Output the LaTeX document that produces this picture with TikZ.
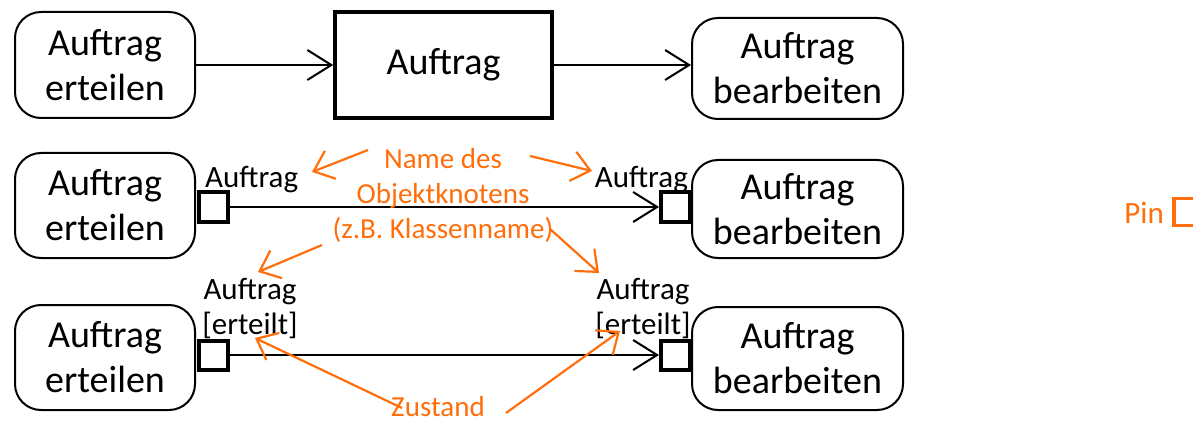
\documentclass[tikz,border=0pt]{standalone}
\usepackage{fontspec}
\setmainfont{Carlito}
\usetikzlibrary{arrows.meta}
\definecolor{note}{RGB}{255,110,10}
\begin{document}
\begin{tikzpicture}[x=1pt,y=-1pt,
  act/.style={draw,line width=2pt,rounded corners=26pt,align=center,inner sep=0pt,
    font=\fontsize{38}{45}\selectfont},
  objbox/.style={draw,line width=3.5pt,inner sep=0pt,font=\fontsize{38}{45}\selectfont},
  pinbox/.style={draw,line width=4pt,minimum size=29pt,inner sep=0pt},
  lbl/.style={inner sep=0pt,align=center,font=\fontsize{31}{35}\selectfont},
  notelbl/.style={inner sep=0pt,align=center,text=note,font=\fontsize{29}{35}\selectfont},
  conn/.style={line width=2pt,-{Straight Barb[length=24pt,width=30pt,line width=2pt]}},
  noteconn/.style={draw=note,line width=2.2pt,-{Straight Barb[length=18pt,width=30pt,line width=2.2pt]}}]
\useasboundingbox (0,0) rectangle (1193,422);

% first row: action -> object node -> action
\node[act,minimum width=180pt,minimum height=106pt] (a1) at (105,65) {Auftrag\\erteilen};
\node[objbox,minimum width=217pt,minimum height=106pt] (o1) at (443.5,65) {Auftrag};
\node[act,minimum width=211pt,minimum height=101pt] (b1) at (797.5,68.5) {Auftrag\\bearbeiten};
\draw[conn] (a1.east |- o1.west) -- (o1.west);
\draw[conn] (o1.east) -- (b1.west |- o1.east);

% second row: output pin -> input pin
\node[act,minimum width=180pt,minimum height=105pt] (a2) at (105,205.5) {Auftrag\\erteilen};
\node[act,minimum width=211pt,minimum height=98pt] (b2) at (797.5,209) {Auftrag\\bearbeiten};
\node[pinbox,anchor=west] (p2a) at (196.5,207) {};
\node[pinbox,anchor=east] (p2b) at (692,207) {};
\draw[conn] (p2a.east) -- (p2b.west);
\node[lbl,anchor=base west] (l2a) at (205,187) {Auftrag};
\node[lbl,anchor=base east] (l2b) at (688,187) {Auftrag};

% third row: pins with object state
\node[act,minimum width=180pt,minimum height=105pt] (a3) at (105,357.5) {Auftrag\\erteilen};
\node[act,minimum width=211pt,minimum height=103pt] (b3) at (797.5,358.5) {Auftrag\\bearbeiten};
\node[pinbox,anchor=west] (p3a) at (196.5,355) {};
\node[pinbox,anchor=east] (p3b) at (692,355) {};
\draw[conn] (p3a.east) -- (p3b.west);
% "base" of a multi-line node is the baseline of its last line
\node[lbl,anchor=base] (l3a) at (250,334) {Auftrag\\{}[erteilt]};
\node[lbl,anchor=base] (l3b) at (643,334) {Auftrag\\{}[erteilt]};

% annotations
\node[notelbl,anchor=base] (nname) at (443,238) {Name des\\Objektknotens\\(z.B. Klassenname)};
\node[notelbl,anchor=base] (nstate) at (438,416) {Zustand};

\coordinate (n1s) at (368,150);  \coordinate (n1e) at (312,172);
\coordinate (n2s) at (530,156);  \coordinate (n2e) at (592,171);
\coordinate (n3s) at (322,245);  \coordinate (n3e) at (258,272);
\coordinate (n4s) at (550,229);  \coordinate (n4e) at (599,273);
\coordinate (z1s) at (402,408);  \coordinate (z1e) at (255,338);
\coordinate (z2s) at (506,413);  \coordinate (z2e) at (620,331);
\draw[noteconn] (n1s) -- (n1e);
\draw[noteconn] (n2s) -- (n2e);
\draw[noteconn] (n3s) -- (n3e);
\draw[noteconn] (n4s) -- (n4e);
\draw[noteconn] (z1s) -- (z1e);
\draw[noteconn] (z2s) -- (z2e);

% legend
\node[notelbl,anchor=base east,font=\fontsize{31}{36}\selectfont] (pinlbl) at (1164,223) {Pin};
\node[draw=note,line width=3.5pt,minimum size=27pt,inner sep=0pt,anchor=west] (pinkey) at (1172,212) {};
\end{tikzpicture}
\end{document}
